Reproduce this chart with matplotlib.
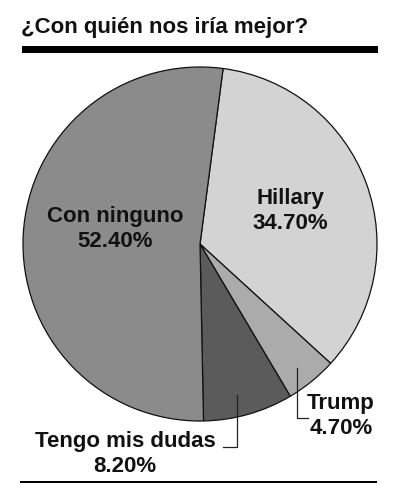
import matplotlib.pyplot as plt
from matplotlib.patches import Rectangle

# data
labels = ['Hillary', 'Trump', 'Tengo mis dudas', 'Con ninguno']
values = [34.70, 4.70, 8.20, 52.40]
colors = ['#d3d3d3', '#ababab', '#5b5b5b', '#8b8b8b']
title = '¿Con quién nos iría mejor?'

W, H = 393, 500
fig = plt.figure(figsize=(W / 100, H / 100), dpi=100)
ax = fig.add_axes([0, 0, 1, 1])


def Y(py):
    # pixel row (from top) -> data y
    return H - py


font = dict(family='Liberation Sans', weight='bold', color='#111111')

ax.pie(values, colors=colors, startangle=82.5, counterclock=False,
       center=(200, Y(244)), radius=177, frame=True,
       wedgeprops=dict(edgecolor='#111111', linewidth=0.9))

ax.set_xlim(0, W)
ax.set_ylim(0, H)
ax.set_aspect('equal')
ax.axis('off')

# title and rules
ax.text(21, Y(27), title, fontsize=16, ha='left', va='center', **font)
ax.add_patch(Rectangle((22, Y(53)), 356, 7, color='black', lw=0))
ax.add_patch(Rectangle((20, Y(483)), 357, 2.5, color='black', lw=0))

# slice labels
def fmt(i):
    return '%s\n%.2f%%' % (labels[i], values[i])

ax.text(290, Y(211), fmt(0), fontsize=16, ha='center', va='center',
        linespacing=1.3, **font)
ax.text(341, Y(416), fmt(1), fontsize=16, ha='center', va='center',
        linespacing=1.3, **font)
ax.text(125, Y(454), fmt(2), fontsize=16, ha='center', va='center',
        linespacing=1.25, **font)
ax.text(115, Y(229), fmt(3), fontsize=16, ha='center', va='center',
        linespacing=1.3, **font)

# leader lines
ax.plot([297, 297, 308], [Y(368), Y(418), Y(418)], color='#222222', lw=0.9)
ax.plot([237, 237, 223], [Y(395), Y(447), Y(447)], color='#222222', lw=0.9)

fig.savefig('out.png', dpi=100)
